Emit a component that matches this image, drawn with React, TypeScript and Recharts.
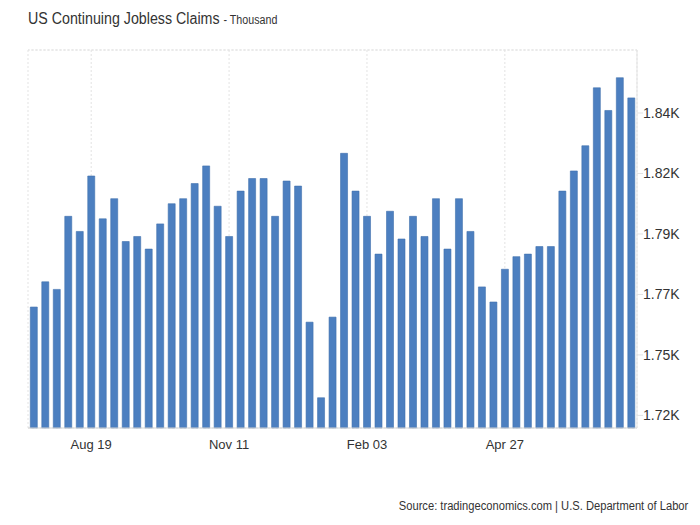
import React from "react";
import {
  BarChart,
  Bar,
  XAxis,
  YAxis,
  CartesianGrid,
  ReferenceLine,
} from "recharts";

// week-ending dates, Jul 2023 - Jul 2024
const weeks = [
  "Jul 15", "Jul 22", "Jul 29", "Aug 05", "Aug 12", "Aug 19", "Aug 26",
  "Sep 02", "Sep 09", "Sep 16", "Sep 23", "Sep 30", "Oct 07", "Oct 14",
  "Oct 21", "Oct 28", "Nov 04", "Nov 11", "Nov 18", "Nov 25", "Dec 02",
  "Dec 09", "Dec 16", "Dec 23", "Dec 30", "Jan 06", "Jan 13", "Jan 20",
  "Jan 27", "Feb 03", "Feb 10", "Feb 17", "Feb 24", "Mar 02", "Mar 09",
  "Mar 16", "Mar 23", "Mar 30", "Apr 06", "Apr 13", "Apr 20", "Apr 27",
  "May 04", "May 11", "May 18", "May 25", "Jun 01", "Jun 08", "Jun 15",
  "Jun 22", "Jun 29", "Jul 06", "Jul 13",
];

// continuing claims, thousands
const claims = [
  1765, 1775, 1772, 1801, 1795, 1817, 1800, 1808, 1791, 1793,
  1788, 1798, 1806, 1808, 1814, 1821, 1805, 1793, 1811, 1816,
  1816, 1801, 1815, 1813, 1759, 1729, 1761, 1826, 1811, 1801,
  1786, 1803, 1792, 1801, 1793, 1808, 1788, 1808, 1795, 1773,
  1767, 1780, 1785, 1786, 1789, 1789, 1811, 1819, 1829, 1852,
  1843, 1856, 1848,
];

const xTicks = ["Aug 19", "Nov 11", "Feb 03", "Apr 27"];
const yTicks = [1722, 1746, 1770, 1794, 1818, 1842];
const yTickLabels = ["1.72K", "1.75K", "1.77K", "1.79K", "1.82K", "1.84K"];

const data = weeks.map((w, i) => ({ week: w, value: claims[i] }));

const yMin = 1717;
const yMax = 1867;

const font = "'Liberation Sans', Arial, sans-serif";
const gridColor = "#e3e3e3";

export default function App() {
  return (
    <div
      style={{
        position: "absolute",
        left: 0,
        top: 0,
        width: 700,
        height: 525,
        background: "#fff",
        fontFamily: font,
        color: "#333",
      }}
    >
      <div
        style={{
          position: "absolute",
          left: 28,
          top: 10,
          fontSize: 16,
          whiteSpace: "nowrap",
          transform: "scaleX(0.89)",
          transformOrigin: "left top",
        }}
      >
        US Continuing Jobless Claims <span style={{ fontSize: 12 }}>- Thousand</span>
      </div>
      <BarChart
        width={700}
        height={470}
        data={data}
        margin={{ top: 50, right: 8, left: 28, bottom: 12 }}
        barCategoryGap="20%"
      >
        <CartesianGrid stroke={gridColor} strokeDasharray="2 2" />
        <ReferenceLine yAxisId="r" y={yMax} stroke={gridColor} strokeDasharray="2 2" />
        <XAxis
          dataKey="week"
          ticks={xTicks}
          interval={0}
          height={30}
          tickLine={false}
          axisLine={{ stroke: "#d6d6d6" }}
          tick={{ fill: "#333", fontSize: 13, fontFamily: font }}
          tickMargin={6}
        />
        <YAxis
          yAxisId="l"
          orientation="left"
          width={0}
          domain={[yMin, yMax]}
          tick={false}
          axisLine={{ stroke: gridColor, strokeDasharray: "2 2" }}
          tickLine={false}
        />
        <YAxis
          yAxisId="r"
          orientation="right"
          width={55}
          domain={[yMin, yMax]}
          ticks={yTicks}
          interval={0}
          tickFormatter={(v: number) => yTickLabels[yTicks.indexOf(v)]}
          axisLine={{ stroke: gridColor }}
          tickLine={{ stroke: gridColor }}
          tickSize={6}
          tickMargin={0}
          tick={{ fill: "#333", fontSize: 14, fontFamily: font }}
        />
        <Bar
          yAxisId="r"
          dataKey="value"
          fill="#4c7fc0"
          stroke="#3f70ad"
          strokeWidth={0.6}
          isAnimationActive={false}
        />
      </BarChart>
      <div
        style={{
          position: "absolute",
          right: 12,
          top: 499,
          fontSize: 12,
          whiteSpace: "nowrap",
          transform: "scaleX(0.93)",
          transformOrigin: "right top",
        }}
      >
        Source: tradingeconomics.com | U.S. Department of Labor
      </div>
    </div>
  );
}
